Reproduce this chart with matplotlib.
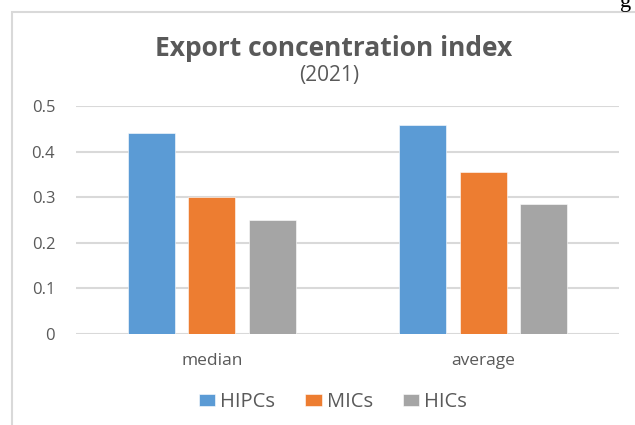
import matplotlib.pyplot as plt
import numpy as np
from matplotlib.patches import Rectangle

# Data
categories = ["median", "average"]
series_names = ["HIPCs", "MICs", "HICs"]
hipcs = [0.440, 0.458]
mics = [0.300, 0.355]
hics = [0.250, 0.286]

colors = ["#5B9BD5", "#ED7D31", "#A5A5A5"]
text_color = "#595959"
grid_color = "#D9D9D9"

plt.rcParams['font.family'] = ['Open Sans', 'DejaVu Sans']

fig = plt.figure(figsize=(6.35, 4.25), dpi=100)
ax = fig.add_axes([76 / 635, 1 - 334 / 425, 543 / 635, 228 / 425])

x = np.arange(len(categories))
width = 0.173
step = 0.222
for i, (name, vals) in enumerate(zip(series_names, [hipcs, mics, hics])):
    ax.bar(x + (i - 1) * step, vals, width, color=colors[i], label=name,
           edgecolor='white', linewidth=0.4, zorder=3)

ax.set_xlim(-0.5, 1.5)
ax.set_ylim(0, 0.5)
ax.set_yticks([0, 0.1, 0.2, 0.3, 0.4, 0.5])
ax.set_yticklabels(["0", "0.1", "0.2", "0.3", "0.4", "0.5"])
ax.set_xticks(x)
ax.set_xticklabels(categories)
ax.tick_params(axis='both', length=0, colors=text_color)
ax.tick_params(axis='y', pad=15, labelsize=12)
ax.tick_params(axis='x', pad=14, labelsize=12.5)
ax.yaxis.grid(True, color=grid_color, linewidth=1.5, zorder=0)
for s in ax.spines.values():
    s.set_visible(False)

fig.text(333.5 / 635, 1 - 48 / 425, "Export concentration index", ha='center', va='center',
         fontsize=19, fontweight='bold', color=text_color)
fig.text(329 / 635, 1 - 75 / 425, "(2021)", ha='center', va='center',
         fontsize=15, color=text_color)

ax.legend(loc='center', bbox_to_anchor=(333 / 635, 1 - 402 / 425), bbox_transform=fig.transFigure,
          ncol=3, frameon=False, fontsize=14.5, handlelength=0.8, handleheight=0.55,
          handletextpad=0.25, columnspacing=1.5, labelcolor=text_color)

# chart frame (cropped on the right and bottom)
fig.patches.append(Rectangle((12 / 635, -0.1), 1.2, 1 - 12 / 425 + 0.1,
                             transform=fig.transFigure, fill=False,
                             edgecolor=grid_color, linewidth=1.5))

# fragment of surrounding document text at the top right
fig.text(620 / 635, 1 - 2 / 425, "g", ha='left', va='center', fontsize=16,
         family='Liberation Serif', color='black')

fig.savefig("out.png", dpi=100)
